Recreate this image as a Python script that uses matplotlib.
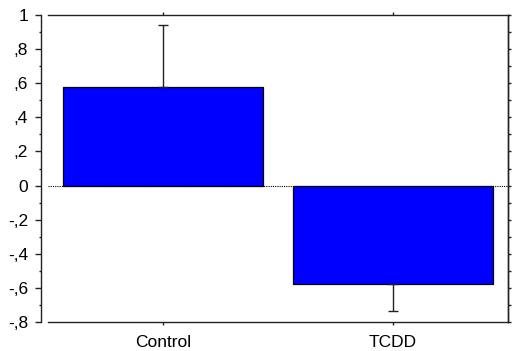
import matplotlib
matplotlib.use("Agg")
import matplotlib.pyplot as plt
from matplotlib.ticker import FixedLocator, FixedFormatter, MultipleLocator

categories = ["Control", "TCDD"]
means = [0.58, -0.575]
err_lower = [0.0, 0.16]
err_upper = [0.36, 0.0]

ytick_vals = [-0.8, -0.6, -0.4, -0.2, 0, 0.2, 0.4, 0.6, 0.8, 1.0]
ytick_labels = ["-,8", "-,6", "-,4", "-,2", "0", ",2", ",4", ",6", ",8", "1"]

plt.rcParams['font.family'] = ['Liberation Sans', 'DejaVu Sans']
dark = '#222222'

fig = plt.figure(figsize=(5.12, 3.51), dpi=100)
ax = fig.add_axes([48/512, 1-322/351, 460/512, 307/351])

x = list(range(len(categories)))
ax.axhline(0, color='black', linestyle=(0, (1, 1)), linewidth=0.8, zorder=1)
ax.bar(x, means, width=0.87, color='#0000FF', edgecolor='black', linewidth=0.9, zorder=2)
ax.errorbar(x, means, yerr=[err_lower, err_upper], fmt='none', ecolor=dark,
            elinewidth=1.0, capsize=3.5, capthick=1.0, zorder=3)

ax.set_xlim(-0.5, 1.5)
ax.set_ylim(-0.8, 1.0)

for s in ax.spines.values():
    s.set_color(dark)
    s.set_linewidth(1.0)
ax.spines['left'].set_position(('outward', 5))

ax.yaxis.set_major_locator(FixedLocator(ytick_vals))
ax.yaxis.set_major_formatter(FixedFormatter(ytick_labels))
ax.yaxis.set_minor_locator(MultipleLocator(0.1))
ax.tick_params(axis='y', which='major', direction='out', length=4.3, width=1.0,
               color=dark, labelsize=12.5, left=True, right=False, pad=5)
ax.tick_params(axis='y', which='minor', direction='out', length=1.8, width=1.0,
               color=dark, left=True, right=False)

ax.set_xticks(x)
ax.set_xticklabels(categories)
ax.tick_params(axis='x', direction='out', length=2.5, width=1.0, color=dark,
               labelsize=12.5, top=True, bottom=True, pad=7)

# right-side ticks at every 0.1 (outward)
axr = ax.secondary_yaxis('right')
axr.yaxis.set_major_locator(MultipleLocator(0.1))
axr.tick_params(direction='out', length=2.5, width=1.0, color=dark, labelright=False)
axr.spines['right'].set_color(dark)
axr.spines['right'].set_linewidth(1.0)

fig.savefig("out.png", dpi=100)
